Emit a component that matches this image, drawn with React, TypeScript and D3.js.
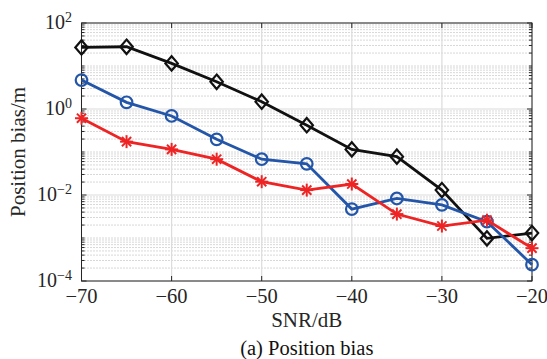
import React from "react";
import * as d3 from "d3";

const snr = [-70, -65, -60, -55, -50, -45, -40, -35, -30, -25, -20];
const blackDiamond = [27, 28, 11.5, 4.3, 1.48, 0.42, 0.115, 0.078, 0.013, 0.00098, 0.0013];
const blueCircle = [4.7, 1.43, 0.69, 0.197, 0.068, 0.053, 0.0047, 0.0083, 0.0059, 0.0024, 0.00024];
const redStar = [0.61, 0.174, 0.115, 0.068, 0.0204, 0.013, 0.018, 0.0036, 0.0019, 0.0026, 0.00058];
const xTicks = [-70, -60, -50, -40, -30, -20];
const yTickExps = [-4, -2, 0, 2];

const W = 547, H = 359;
const L = 81.5, R = 532, T = 23, B = 281;
const FONT = "'Liberation Serif', 'Times New Roman', serif";

export default function App() {
  const x = d3.scaleLinear().domain([-70, -20]).range([L, R]);
  const y = d3.scaleLog().domain([1e-4, 1e2]).range([B, T]);

  const minorVals: number[] = [];
  for (let e = -4; e < 2; e++) {
    for (let m = 1; m <= 9; m++) {
      const v = m * Math.pow(10, e);
      if (m === 1 && e % 2 === 0) continue;
      minorVals.push(v);
    }
  }
  const minorTickVals: number[] = [];
  for (let e = -4; e < 2; e++) for (let m = 2; m <= 9; m++) minorTickVals.push(m * Math.pow(10, e));
  for (let e = -3; e < 2; e += 2) minorTickVals.push(Math.pow(10, e));

  const line = d3.line<number>().x((_, i) => x(snr[i])).y((d) => y(d));

  const fmt = (v: number) => (v < 0 ? "\u2212" + Math.abs(v) : String(v));
  const ts = { fontFamily: FONT } as React.CSSProperties;

  const star = (cx: number, cy: number, r: number, color: string, key: string) => (
    <g key={key} stroke={color} strokeWidth={2}>
      {[0, 45, 90, 135].map((a) => {
        const rad = (a * Math.PI) / 180;
        return (
          <line key={a} x1={cx - r * Math.cos(rad)} y1={cy - r * Math.sin(rad)} x2={cx + r * Math.cos(rad)} y2={cy + r * Math.sin(rad)} />
        );
      })}
    </g>
  );

  return (
    <svg width={W} height={H} style={{ position: "absolute", left: 0, top: 0, background: "#fff", fontFamily: FONT }}>
      {/* minor grid */}
      {minorVals.map((v, i) => (
        <line key={"mg" + i} x1={L} x2={R} y1={y(v)} y2={y(v)} stroke="#b0b0b0" strokeWidth={1} strokeDasharray="1,2" />
      ))}
      {/* major grid */}
      {yTickExps.map((e) => (
        <line key={"yg" + e} x1={L} x2={R} y1={y(Math.pow(10, e))} y2={y(Math.pow(10, e))} stroke="#dcdcdc" strokeWidth={1.2} />
      ))}
      {xTicks.map((t) => (
        <line key={"xg" + t} x1={x(t)} x2={x(t)} y1={T} y2={B} stroke="#dcdcdc" strokeWidth={1.2} />
      ))}
      {/* box */}
      <rect x={L} y={T} width={R - L} height={B - T} fill="none" stroke="#262626" strokeWidth={1} />
      {/* ticks */}
      {xTicks.map((t) => (
        <g key={"xt" + t} stroke="#262626" strokeWidth={1}>
          <line x1={x(t)} x2={x(t)} y1={B} y2={B - 5} />
          <line x1={x(t)} x2={x(t)} y1={T} y2={T + 5} />
        </g>
      ))}
      {yTickExps.map((e) => (
        <g key={"yt" + e} stroke="#262626" strokeWidth={1}>
          <line x1={L} x2={L + 5} y1={y(Math.pow(10, e))} y2={y(Math.pow(10, e))} />
          <line x1={R} x2={R - 5} y1={y(Math.pow(10, e))} y2={y(Math.pow(10, e))} />
        </g>
      ))}
      {minorTickVals.map((v, i) => (
        <g key={"mt" + i} stroke="#262626" strokeWidth={1}>
          <line x1={L} x2={L + 3} y1={y(v)} y2={y(v)} />
          <line x1={R} x2={R - 3} y1={y(v)} y2={y(v)} />
        </g>
      ))}
      {/* tick labels */}
      {xTicks.map((t) => (
        <text key={"xl" + t} x={x(t)} y={303} textAnchor="middle" style={ts} fontSize={20.5} fill="#262626">
          {fmt(t)}
        </text>
      ))}
      {yTickExps.map((e) => (
        <text key={"yl" + e} x={72} y={y(Math.pow(10, e)) + 6} textAnchor="end" style={ts} fontSize={20} fill="#262626">
          10
          <tspan dy={-7} fontSize={14}>{fmt(e)}</tspan>
        </text>
      ))}
      {/* axis labels */}
      <text x={(L + R) / 2} y={327} textAnchor="middle" style={ts} fontSize={21} fill="#262626">SNR/dB</text>
      <text transform={`translate(25,${(T + B) / 2}) rotate(-90)`} textAnchor="middle" style={ts} fontSize={21} fill="#262626">
        Position bias/m
      </text>
      <text x={(L + R) / 2} y={355} textAnchor="middle" style={ts} fontSize={20.5} fill="#111">(a) Position bias</text>
      {/* series */}
      <path d={line(blackDiamond) || ""} fill="none" stroke="#111" strokeWidth={2.8} />
      {blackDiamond.map((v, i) => {
        const cx = x(snr[i]), cy = y(v), rx = 6.2, ry = 7.2;
        return (
          <path key={"bd" + i} d={`M${cx},${cy - ry}L${cx + rx},${cy}L${cx},${cy + ry}L${cx - rx},${cy}Z`} fill="none" stroke="#111" strokeWidth={2.2} />
        );
      })}
      <path d={line(blueCircle) || ""} fill="none" stroke="#2356a8" strokeWidth={2.8} />
      {blueCircle.map((v, i) => (
        <circle key={"bc" + i} cx={x(snr[i])} cy={y(v)} r={5.8} fill="none" stroke="#2356a8" strokeWidth={2.2} />
      ))}
      <path d={line(redStar) || ""} fill="none" stroke="#ee2424" strokeWidth={2.8} />
      {redStar.map((v, i) => star(x(snr[i]), y(v), 6.5, "#ee2424", "rs" + i))}
    </svg>
  );
}
